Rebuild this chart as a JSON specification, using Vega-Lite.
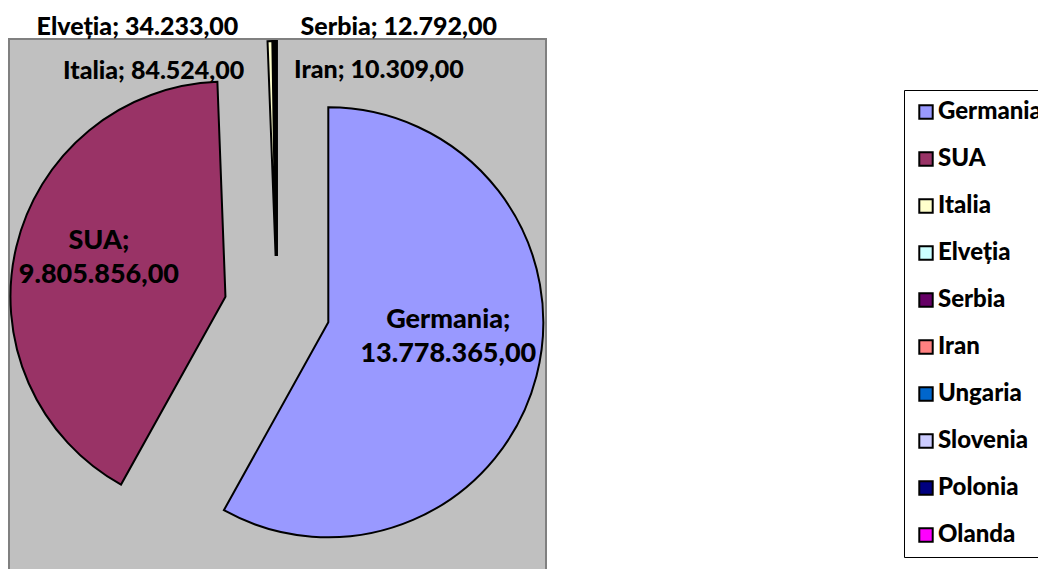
{
  "$schema": "https://vega.github.io/schema/vega-lite/v6.json",
  "width": 537,
  "height": 560,
  "autosize": {"type": "none"},
  "padding": {"left": 9, "top": 39, "right": 492, "bottom": 0},
  "background": "white",
  "config": {
    "view": {"fill": "#C0C0C0", "stroke": "#808080", "strokeWidth": 2},
    "font": "Lato",
    "text": {"font": "Lato", "fontWeight": 900, "fontSize": 25, "color": "black"}
  },
  "data": {
    "values": [
      {"country": "Germania", "value": 13778365},
      {"country": "SUA", "value": 9805856},
      {"country": "Italia", "value": 84524},
      {"country": "Elveția", "value": 34233},
      {"country": "Serbia", "value": 12792},
      {"country": "Iran", "value": 10309}
    ]
  },
  "transform": [
    {"stack": "value", "groupby": [], "sort": [{"field": "value", "order": "descending"}], "offset": "normalize", "as": ["v0", "v1"]},
    {"calculate": "(datum.v0 + datum.v1) / 2", "as": "mid"},
    {"calculate": "sin(2 * PI * datum.mid)", "as": "ex"},
    {"calculate": "cos(2 * PI * datum.mid)", "as": "ey"},
    {"calculate": "replace(replace(replace(format(datum.value, ',.2f'), /,/g, '_'), /\\./g, ','), /_/g, '.')", "as": "num"},
    {"calculate": "datum.country + ';' + (datum.v1 - datum.v0 > 0.1 ? '\\n' : ' ') + datum.num", "as": "label"}
  ],
  "encoding": {
    "x": {"field": "ex", "type": "quantitative", "scale": {"domain": [-1, 1], "range": [215, 321]}, "axis": null},
    "y": {"field": "ey", "type": "quantitative", "scale": {"domain": [-1, 1], "range": [323, 217]}, "axis": null}
  },
  "layer": [
    {
      "mark": {"type": "arc", "radius": 215, "stroke": "black", "strokeWidth": 2},
      "encoding": {
        "theta": {"field": "v0", "type": "quantitative", "scale": {"domain": [0, 1]}},
        "theta2": {"field": "v1"},
        "color": {
          "field": "country",
          "type": "nominal",
          "sort": null,
          "scale": {
            "domain": ["Germania", "SUA", "Italia", "Elveția", "Serbia", "Iran", "Ungaria", "Slovenia", "Polonia", "Olanda"],
            "range": ["#9999FF", "#993366", "#FFFFCC", "#CCFFFF", "#660066", "#FF8080", "#0066CC", "#CCCCFF", "#000080", "#FF00FF"]
          },
          "legend": {
            "orient": "none",
            "legendX": 895,
            "legendY": 51,
            "title": null,
            "symbolType": "square",
            "symbolSize": 180,
            "symbolStrokeColor": "black",
            "symbolStrokeWidth": 2,
            "symbolOpacity": 1,
            "labelFont": "Lato",
            "labelFontSize": 24,
            "labelFontWeight": 900,
            "labelColor": "black",
            "labelOffset": 0,
            "rowPadding": 23,
            "padding": 10,
            "strokeColor": "black",
            "fillColor": "white"
          }
        }
      }
    },
    {
      "transform": [{"filter": "datum.country === 'Germania'"}],
      "mark": {"type": "text", "radius": 125, "dx": -1, "dy": -34, "fontSize": 27, "lineBreak": "\n", "lineHeight": 34, "align": "center", "baseline": "middle"},
      "encoding": {
        "theta": {"field": "mid", "type": "quantitative"},
        "text": {"field": "label"}
      }
    },
    {
      "transform": [{"filter": "datum.country === 'SUA'"}],
      "mark": {"type": "text", "radius": 125, "dx": -5, "dy": -27, "fontSize": 27, "lineBreak": "\n", "lineHeight": 34, "align": "center", "baseline": "middle"},
      "encoding": {
        "theta": {"field": "mid", "type": "quantitative"},
        "text": {"field": "label"}
      }
    },
    {
      "transform": [{"filter": "datum.country === 'Elveția'"}],
      "mark": {"type": "text", "dx": -139, "dy": -229, "align": "center", "baseline": "middle"},
      "encoding": {"text": {"field": "label"}}
    },
    {
      "transform": [{"filter": "datum.country === 'Serbia'"}],
      "mark": {"type": "text", "dx": 122, "dy": -229, "align": "center", "baseline": "middle"},
      "encoding": {"text": {"field": "label"}}
    },
    {
      "transform": [{"filter": "datum.country === 'Italia'"}],
      "mark": {"type": "text", "dx": -122, "dy": -185, "align": "center", "baseline": "middle"},
      "encoding": {"text": {"field": "label"}}
    },
    {
      "transform": [{"filter": "datum.country === 'Iran'"}],
      "mark": {"type": "text", "dx": 102, "dy": -186, "align": "center", "baseline": "middle"},
      "encoding": {"text": {"field": "label"}}
    }
  ]
}
